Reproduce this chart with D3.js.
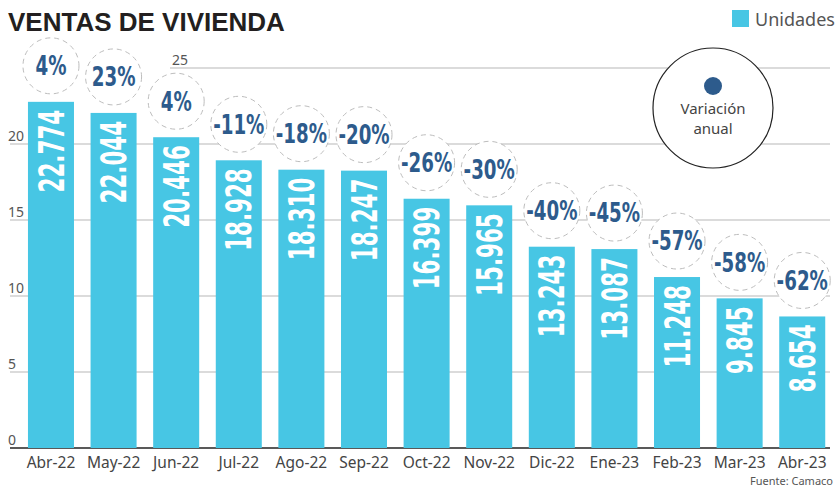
<!DOCTYPE html>
<meta charset="utf-8">
<html>
  <style>
    body { margin: 0; background: #fff; }
    svg text { font-family: "Liberation Sans", Arial, sans-serif; }
  </style>
  <head>
    <title>Ventas de vivienda</title>
  </head>
  <body>
  <div id="chart"></div>
  <script src="https://cdn.jsdelivr.net/npm/d3@7"></script>
  <script>

  // data (miles de unidades)
  var months = ["Abr-22","May-22","Jun-22","Jul-22","Ago-22","Sep-22","Oct-22","Nov-22","Dic-22","Ene-23","Feb-23","Mar-23","Abr-23"];
  var unidades = [22.774, 22.044, 20.446, 18.928, 18.310, 18.247, 16.399, 15.965, 13.243, 13.087, 11.248, 9.845, 8.654];
  var variacion = ["4%","23%","4%","-11%","-18%","-20%","-26%","-30%","-40%","-45%","-57%","-58%","-62%"];
  var yTicks = [0, 5, 10, 15, 20, 25];

  var width = 835, height = 488;
  var narrow = "'DejaVu Sans Condensed', 'DejaVu Sans', sans-serif";
  var barColor = "#47c6e4", blue = "#2d5b8c";

  var svg = d3.select("#chart").append("svg")
      .attr("width", width)
      .attr("height", height);

  var x = d3.scaleBand()
      .domain(months)
      .range([19.7, 833.5])
      .paddingInner(0.265)
      .paddingOuter(0.132);

  var y = d3.scaleLinear()
      .domain([0, 25])
      .range([448, 68]);

  /*
     grid
  */
  var grid = svg.append("g").attr("class", "grid");
  grid.selectAll("line")
      .data(yTicks.filter(function(d){ return d > 0; }))
    .enter().append("line")
      .attr("x1", function(d){ return d == 25 ? 170 : 10; })
      .attr("x2", 830)
      .attr("y1", function(d){ return y(d); })
      .attr("y2", function(d){ return y(d); })
      .style("stroke", "#cfcfcf")
      .style("stroke-width", 1.5);

  grid.selectAll("text")
      .data(yTicks)
    .enter().append("text")
      .attr("x", function(d){ return d == 25 ? 172 : 8; })
      .attr("y", function(d){ return y(d) - 3; })
      .style("font-family", "'Noto Sans', sans-serif")
      .style("font-size", "14px")
      .style("fill", "#555")
      .text(function(d){ return d; });

  // baseline
  svg.append("line")
      .attr("x1", 10).attr("x2", 830)
      .attr("y1", y(0)).attr("y2", y(0))
      .style("stroke", "#222")
      .style("stroke-width", 1.5);

  /*
     bars
  */
  var bars = svg.append("g").attr("class", "bars")
    .selectAll("g")
      .data(months)
    .enter().append("g");

  bars.append("rect")
      .attr("x", function(d){ return x(d); })
      .attr("y", function(d, i){ return y(unidades[i]); })
      .attr("width", x.bandwidth())
      .attr("height", function(d, i){ return y(0) - y(unidades[i]); })
      .style("fill", barColor);

  // value, written upwards and squeezed along the text direction
  bars.append("text")
      .attr("transform", function(d, i){
        var cx = x(d) + x.bandwidth() / 2;
        return "translate(" + cx + "," + (y(unidades[i]) + 8) + ") rotate(-90) scale(0.68,1)";
      })
      .attr("dy", "0.36em")
      .style("text-anchor", "end")
      .style("font-family", narrow)
      .style("font-weight", "bold")
      .style("font-size", "35px")
      .style("fill", "#fff")
      .text(function(d, i){ return unidades[i].toFixed(3); });

  // variacion circles
  bars.append("circle")
      .attr("cx", function(d){ return x(d) + x.bandwidth() / 2; })
      .attr("cy", function(d, i){ return y(unidades[i]) - 36; })
      .attr("r", 28)
      .style("fill", "#fff")
      .style("stroke", "#bdbdbd")
      .style("stroke-dasharray", "5,4");

  bars.append("text")
      .attr("transform", function(d, i){
        var cx = x(d) + x.bandwidth() / 2;
        return "translate(" + cx + "," + (y(unidades[i]) - 36) + ") scale(0.78,1)";
      })
      .attr("dy", "0.36em")
      .style("text-anchor", "middle")
      .style("font-family", narrow)
      .style("font-weight", "bold")
      .style("font-size", "26px")
      .style("fill", blue)
      .text(function(d, i){ return variacion[i]; });

  // x labels
  svg.append("g").selectAll("text")
      .data(months)
    .enter().append("text")
      .attr("x", function(d){ return x(d) + x.bandwidth() / 2; })
      .attr("y", 468)
      .style("text-anchor", "middle")
      .style("font-family", "'Noto Sans', sans-serif")
      .style("font-size", "15.5px")
      .style("fill", "#444")
      .text(function(d){ return d; });

  /*
     title, legend, source
  */
  svg.append("text")
      .attr("x", 8).attr("y", 31)
      .style("font-weight", "bold")
      .style("font-size", "26px")
      .style("fill", "#231f20")
      .text("VENTAS DE VIVIENDA");

  svg.append("rect")
      .attr("x", 732).attr("y", 10)
      .attr("width", 17).attr("height", 17)
      .style("fill", barColor);
  svg.append("text")
      .attr("x", 755).attr("y", 26)
      .style("font-family", "'Noto Sans', sans-serif")
      .style("font-size", "18px")
      .style("fill", "#555")
      .text("Unidades");

  var key = svg.append("g").attr("transform", "translate(713,108)");
  key.append("circle")
      .attr("r", 60)
      .style("fill", "#fff")
      .style("stroke", "#222")
      .style("stroke-width", 1.2);
  key.append("circle")
      .attr("cy", -22).attr("r", 9)
      .style("fill", blue);
  key.append("text")
      .attr("y", 6)
      .style("text-anchor", "middle")
      .style("font-family", "'Noto Sans', sans-serif")
      .style("font-size", "15px")
      .style("fill", "#444")
      .text("Variación");
  key.append("text")
      .attr("y", 26)
      .style("text-anchor", "middle")
      .style("font-family", "'Noto Sans', sans-serif")
      .style("font-size", "15px")
      .style("fill", "#444")
      .text("anual");

  svg.append("text")
      .attr("x", 833).attr("y", 485)
      .style("text-anchor", "end")
      .style("font-family", "'Noto Sans', sans-serif")
      .style("font-size", "11px")
      .style("fill", "#555")
      .text("Fuente: Camaco");

  </script>
  </body>
</html>
